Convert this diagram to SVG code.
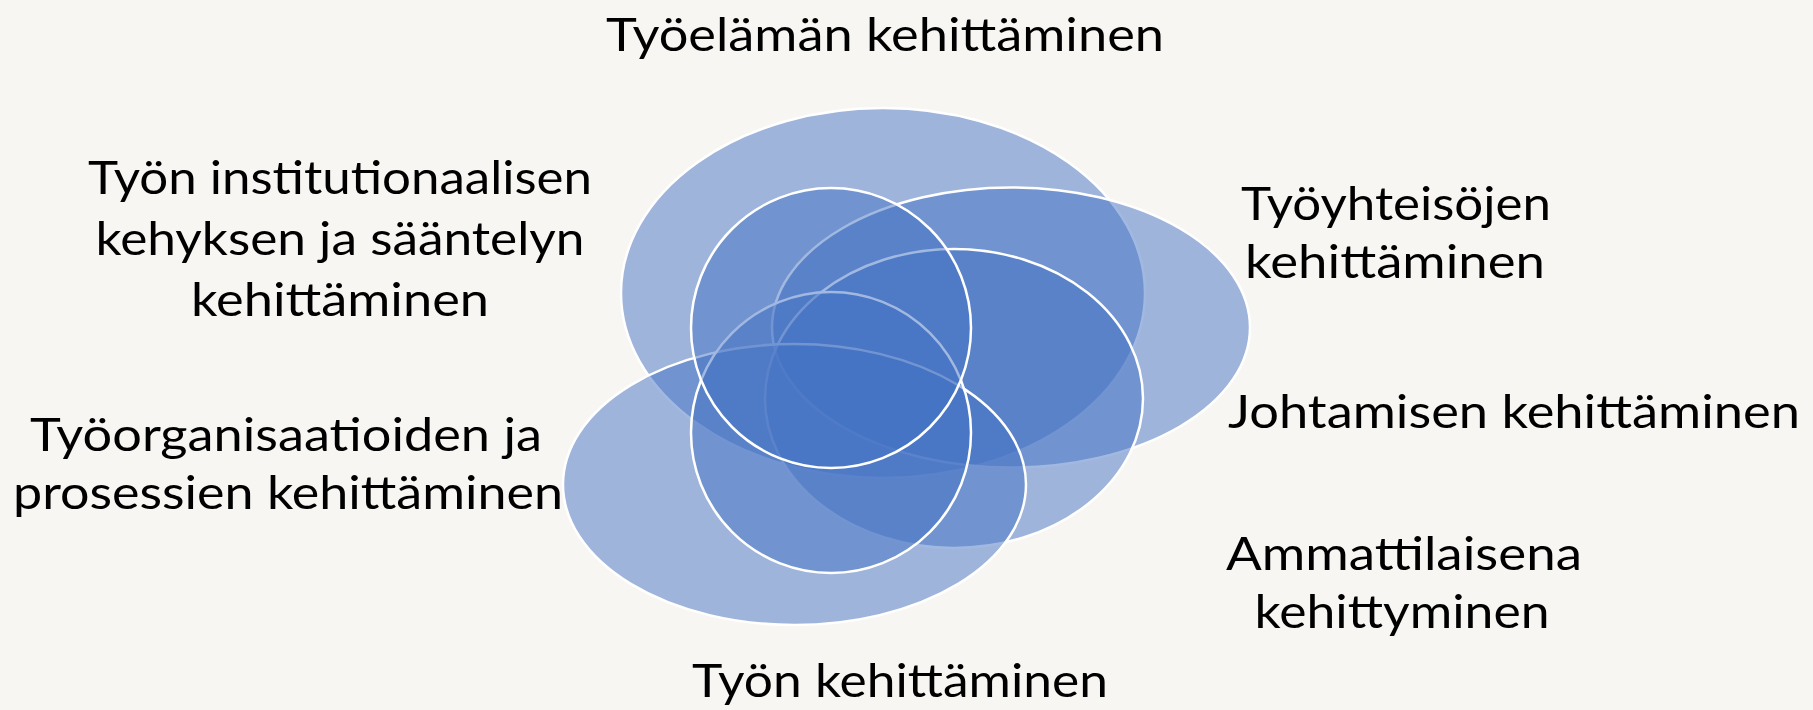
<svg xmlns="http://www.w3.org/2000/svg" width="1813" height="710" viewBox="0 0 1813 710">
<style>
.c { fill: #4472c4; fill-opacity: 0.5; stroke: #ffffff; stroke-width: 2.5; }
.t { font-family: Lato, "Open Sans", sans-serif; font-size: 46px; fill: #000000; text-anchor: middle; }
</style>
<rect width="1813" height="710" fill="#f8f6f3"/>
<g id="venn">
  <g id="shape-tyoelama"><ellipse class="c" cx="883" cy="293" rx="262" ry="185"/></g>
  <g id="shape-tyoyhteisot"><ellipse class="c" cx="1011" cy="327.5" rx="239" ry="140"/></g>
  <g id="shape-johtaminen"><ellipse class="c" cx="954" cy="398.5" rx="189" ry="149.5"/></g>
  <g id="shape-tyoorganisaatiot"><ellipse class="c" cx="794.5" cy="484.5" rx="231.5" ry="140.5"/></g>
  <g id="shape-ammattilaisena"><ellipse class="c" cx="831" cy="432.5" rx="140" ry="140.5"/></g>
  <g id="shape-institutionaalinen"><ellipse class="c" cx="831" cy="328" rx="140" ry="140"/></g>
</g>
<g id="labels">
  <g id="label-tyoelama"><text class="t" x="885" y="51" textLength="558" lengthAdjust="spacingAndGlyphs">Työelämän kehittäminen</text></g>
  <g id="label-institutionaalinen">
    <text class="t" x="340" y="194" textLength="504" lengthAdjust="spacingAndGlyphs">Työn institutionaalisen</text>
    <text class="t" x="340" y="255" textLength="489" lengthAdjust="spacingAndGlyphs">kehyksen ja sääntelyn</text>
    <text class="t" x="340" y="316" textLength="298" lengthAdjust="spacingAndGlyphs">kehittäminen</text>
  </g>
  <g id="label-tyoyhteisot">
    <text class="t" x="1396" y="220" textLength="310" lengthAdjust="spacingAndGlyphs">Työyhteisöjen</text>
    <text class="t" x="1395" y="278" textLength="300" lengthAdjust="spacingAndGlyphs">kehittäminen</text>
  </g>
  <g id="label-johtaminen"><text class="t" x="1514" y="428" textLength="572" lengthAdjust="spacingAndGlyphs">Johtamisen kehittäminen</text></g>
  <g id="label-ammattilaisena">
    <text class="t" x="1404" y="570" textLength="356" lengthAdjust="spacingAndGlyphs">Ammattilaisena</text>
    <text class="t" x="1402" y="628" textLength="295" lengthAdjust="spacingAndGlyphs">kehittyminen</text>
  </g>
  <g id="label-tyoorganisaatiot">
    <text class="t" x="286" y="451" textLength="512" lengthAdjust="spacingAndGlyphs">Työorganisaatioiden ja</text>
    <text class="t" x="288" y="509" textLength="550" lengthAdjust="spacingAndGlyphs">prosessien kehittäminen</text>
  </g>
  <g id="label-tyo"><text class="t" x="900" y="697" textLength="416" lengthAdjust="spacingAndGlyphs">Työn kehittäminen</text></g>
</g>
</svg>
